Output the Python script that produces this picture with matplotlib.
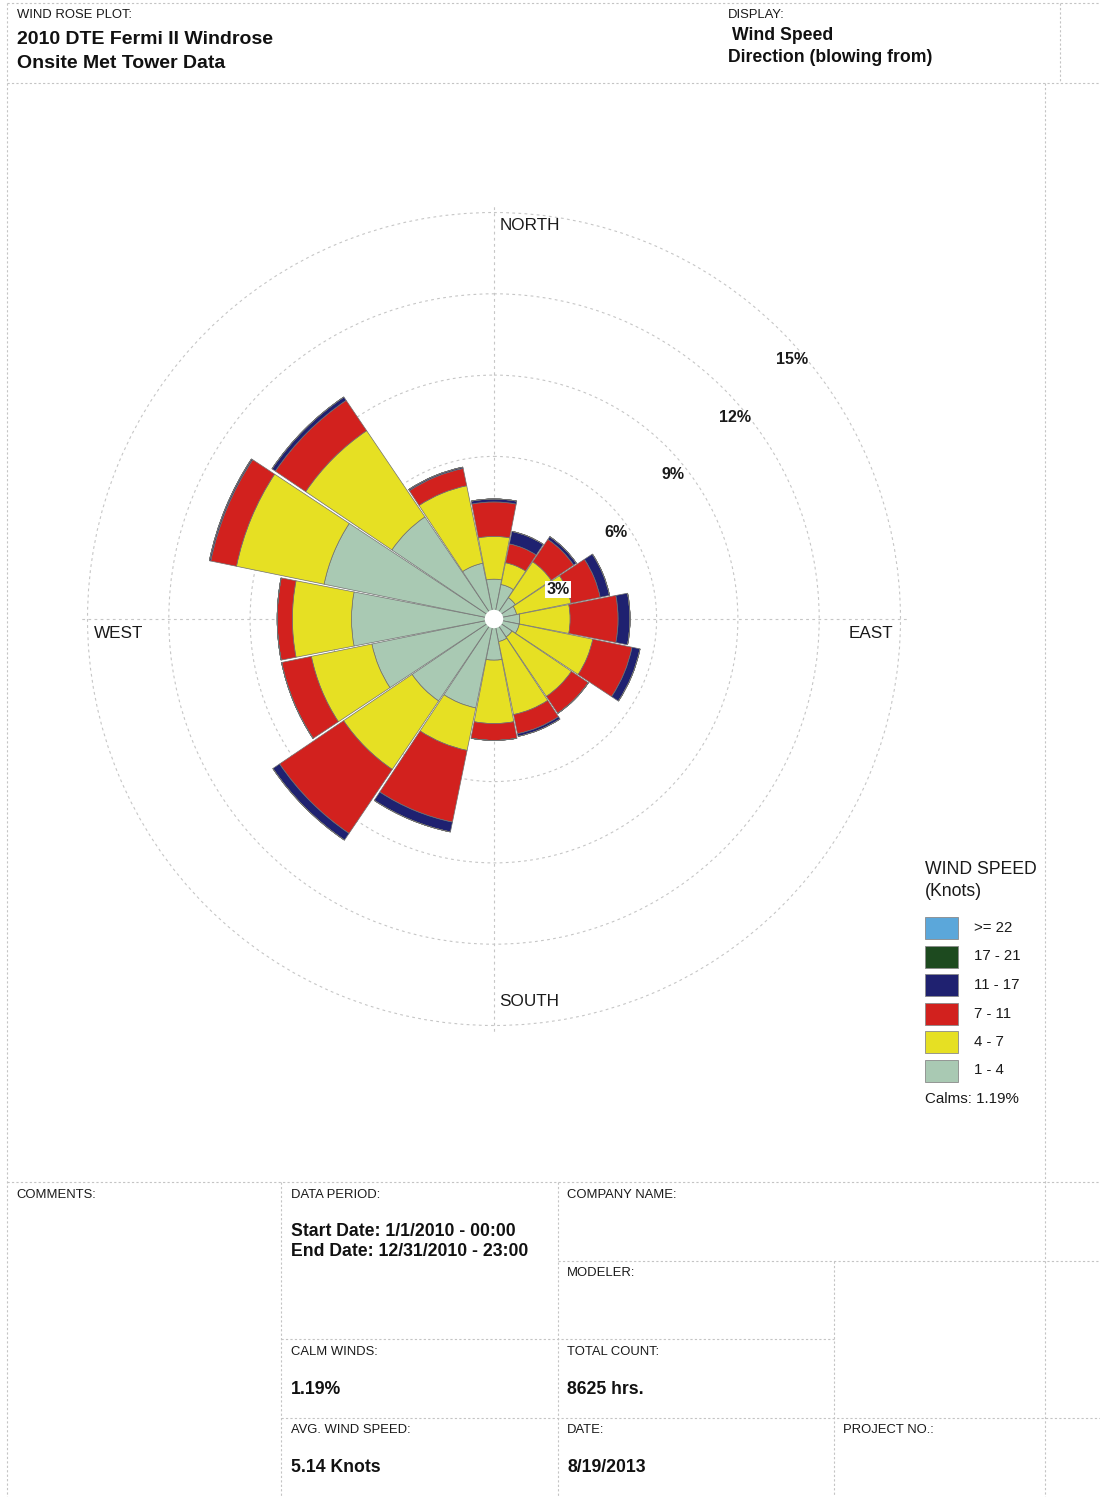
import numpy as np
import matplotlib
matplotlib.use("Agg")
import matplotlib.pyplot as plt
from matplotlib.lines import Line2D
from matplotlib.patches import Rectangle
from matplotlib.transforms import offset_copy

plt.rcParams['font.family'] = ['Liberation Sans', 'DejaVu Sans']

# ---- data: frequency (%) per direction sector, by wind speed class (knots) ----
directions = ['N', 'NNE', 'NE', 'ENE', 'E', 'ESE', 'SE', 'SSE',
              'S', 'SSW', 'SW', 'WSW', 'W', 'WNW', 'NW', 'NNW']
speed_1_4 = [1.47, 1.30, 0.95, 0.85, 0.95, 0.95, 0.80, 0.85,
             1.52, 3.35, 3.65, 4.60, 5.26, 6.40, 4.55, 2.10]
speed_4_7 = [1.58, 0.82, 1.60, 2.05, 1.86, 2.77, 2.65, 2.75,
             2.34, 1.60, 3.05, 2.28, 2.18, 3.30, 3.84, 2.92]
speed_7_11 = [1.27, 0.71, 1.00, 1.10, 1.77, 1.48, 0.75, 0.72,
              0.62, 2.70, 2.85, 1.12, 0.56, 0.97, 1.35, 0.65]
speed_11_17 = [0.11, 0.47, 0.12, 0.35, 0.44, 0.30, 0.00, 0.10,
               0.00, 0.37, 0.30, 0.00, 0.00, 0.05, 0.15, 0.05]
speed_17_21 = [0.00, 0.00, 0.00, 0.00, 0.00, 0.00, 0.00, 0.00,
               0.00, 0.00, 0.00, 0.00, 0.00, 0.00, 0.00, 0.00]
speed_22_up = [0.00, 0.00, 0.00, 0.00, 0.00, 0.00, 0.00, 0.00,
               0.00, 0.00, 0.00, 0.00, 0.00, 0.00, 0.00, 0.00]

class_labels = ['1 - 4', '4 - 7', '7 - 11', '11 - 17', '17 - 21', '>= 22']
class_colors = ['#a9c9b3', '#e6e023', '#d2211e', '#1f2170', '#1d4a1f', '#5ba7da']
ring_values = [3, 6, 9, 12, 15]
ring_labels = ['3%', '6%', '9%', '12%', '15%']
calms_pct = 1.19

W, H = 1100, 1497
fig = plt.figure(figsize=(W / 100, H / 100), dpi=100)
fig.patch.set_facecolor('white')


def fx(x):
    return x / W


def fy(y):
    return 1 - y / H


# ---- polar axes for the rose ----
cx, cy = 494, 619
px_per_pct = 27.1
rmax = 15.3
R = rmax * px_per_pct
ax = fig.add_axes([fx(cx - R), fy(cy + R), 2 * R / W, 2 * R / H], projection='polar')
ax.set_theta_zero_location('N')
ax.set_theta_direction(-1)
ax.set_ylim(0, rmax)
ax.spines['polar'].set_visible(False)
ax.set_facecolor('none')
ax.set_rgrids(ring_values, labels=[''] * len(ring_values))
ax.set_thetagrids([0, 90, 180, 270], labels=[''] * 4)
ax.grid(True, color='#c6c6c6', linestyle=(0, (2.5, 3)), linewidth=0.8)
ax.set_axisbelow(True)

theta = np.deg2rad(np.arange(16) * 22.5)
width = np.deg2rad(22.5) * 0.972
series = [speed_1_4, speed_4_7, speed_7_11, speed_11_17, speed_17_21, speed_22_up]
bottom = np.zeros(16)
for vals, col in zip(series, class_colors):
    vals = np.asarray(vals, dtype=float)
    ax.bar(theta, vals, width=width, bottom=bottom, color=col,
           edgecolor='#707070', linewidth=0.5, zorder=3)
    bottom = bottom + vals

# white hub at the centre
ax.bar(0, 0.34, width=2 * np.pi, bottom=0, color='white', edgecolor='none', zorder=6)

# ring percentage labels placed along the 45 degree bearing
for val, lab in zip(ring_values, ring_labels):
    tr = offset_copy(ax.transData, fig=fig, x=-5, y=-28, units='dots')
    kw = dict(fontsize=11.5, fontweight='bold', color='#1a1a1a',
              ha='left', va='center', transform=tr, zorder=8)
    if val == 3:
        kw['bbox'] = dict(facecolor='white', edgecolor='none', pad=1.0)
    ax.text(np.deg2rad(45), val, lab, **kw)

# compass labels
compass = [('NORTH', 500, 225), ('SOUTH', 499, 1002), ('WEST', 94, 633), ('EAST', 849, 634)]
for name, x, y in compass:
    fig.text(fx(x), fy(y), name, fontsize=12.3, color='#1a1a1a', ha='left', va='center')

# ---- legend ----
fig.text(fx(925), fy(870), 'WIND SPEED', fontsize=12.7, color='#1a1a1a', ha='left', va='center')
fig.text(fx(925), fy(892), '(Knots)', fontsize=12.7, color='#1a1a1a', ha='left', va='center')
row_y = [928, 956.5, 985, 1013.5, 1042, 1070.5]
for i, yy in enumerate(row_y):
    k = len(class_labels) - 1 - i
    fig.add_artist(Rectangle((fx(925), fy(yy + 11)), 33 / W, 22 / H,
                             transform=fig.transFigure, facecolor=class_colors[k],
                             edgecolor='#8a8a8a', linewidth=0.6))
    fig.text(fx(974), fy(yy), class_labels[k],
             fontsize=10.8, color='#1a1a1a', ha='left', va='center')
fig.text(fx(925), fy(1099), f'Calms: {calms_pct:.2f}%', fontsize=10.9,
         color='#1a1a1a', ha='left', va='center')

# ---- page form lines ----
line_kw = dict(color='#c4c4c4', linestyle=(0, (2, 2)), linewidth=0.8)


def hline(y, x0, x1):
    fig.add_artist(Line2D([fx(x0), fx(x1)], [fy(y), fy(y)], transform=fig.transFigure, **line_kw))


def vline(x, y0, y1):
    fig.add_artist(Line2D([fx(x), fx(x)], [fy(y0), fy(y1)], transform=fig.transFigure, **line_kw))


hline(3, 7, 1100)
hline(83, 7, 1100)
hline(1182, 7, 1100)
hline(1261, 558, 1100)
hline(1339, 281, 834)
hline(1418, 281, 1100)
vline(7, 3, 1497)
vline(1060, 3, 83)
vline(1045, 83, 1497)
vline(281, 1182, 1497)
vline(558, 1182, 1497)
vline(834, 1261, 1497)

# ---- header text ----
small = dict(fontsize=9.4, color='#1a1a1a', ha='left', va='center')
big = dict(fontsize=14, fontweight='bold', color='#111111', ha='left', va='center')
mid = dict(fontsize=12.7, fontweight='bold', color='#111111', ha='left', va='center')

fig.text(fx(17), fy(15), 'WIND ROSE PLOT:', **small)
fig.text(fx(17), fy(40), '2010 DTE Fermi II Windrose', **big)
fig.text(fx(17), fy(63), 'Onsite Met Tower Data', **big)
fig.text(fx(728), fy(15), 'DISPLAY:', **small)
fig.text(fx(732), fy(36), 'Wind Speed', **mid)
fig.text(fx(728), fy(57), 'Direction (blowing from)', **mid)

# ---- bottom table text ----
fig.text(fx(16), fy(1195), 'COMMENTS:', **small)
fig.text(fx(291), fy(1195), 'DATA PERIOD:', **small)
fig.text(fx(567), fy(1195), 'COMPANY NAME:', **small)
fig.text(fx(291), fy(1232), 'Start Date: 1/1/2010 - 00:00', **mid)
fig.text(fx(291), fy(1252), 'End Date: 12/31/2010 - 23:00', **mid)
fig.text(fx(567), fy(1273), 'MODELER:', **small)
fig.text(fx(291), fy(1352), 'CALM WINDS:', **small)
fig.text(fx(291), fy(1389), f'{calms_pct:.2f}%', **mid)
fig.text(fx(567), fy(1352), 'TOTAL COUNT:', **small)
fig.text(fx(567), fy(1389), '8625 hrs.', **mid)
fig.text(fx(291), fy(1430), 'AVG. WIND SPEED:', **small)
fig.text(fx(291), fy(1468), '5.14 Knots', **mid)
fig.text(fx(567), fy(1430), 'DATE:', **small)
fig.text(fx(567), fy(1468), '8/19/2013', **mid)
fig.text(fx(843), fy(1430), 'PROJECT NO.:', **small)

fig.savefig('out.png', dpi=100, facecolor='white')
